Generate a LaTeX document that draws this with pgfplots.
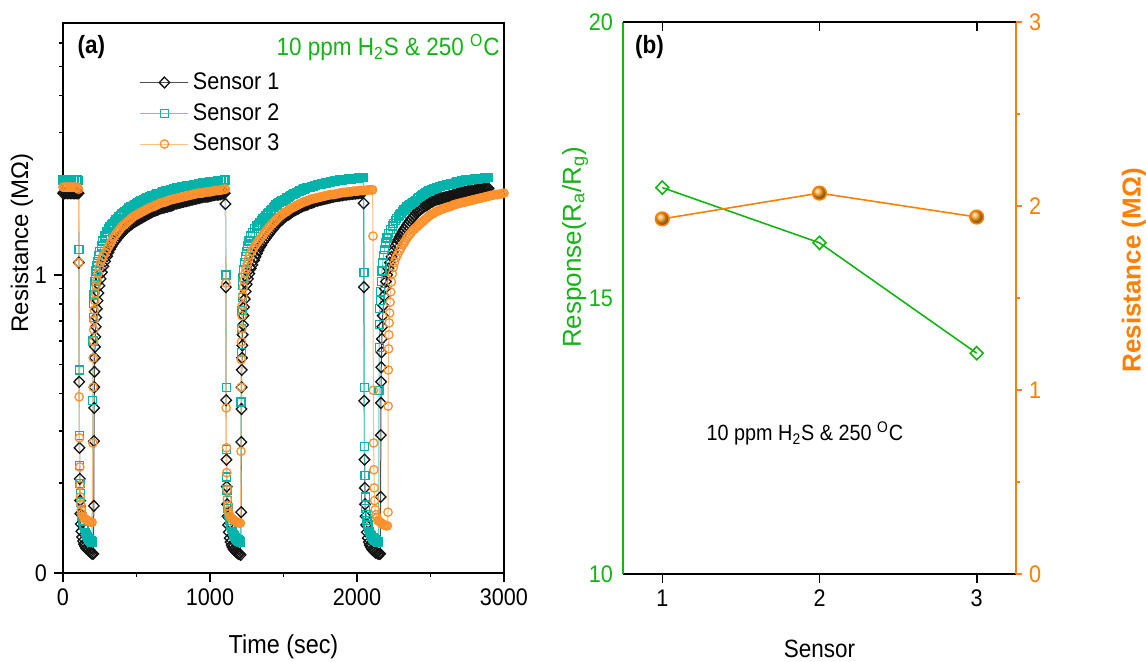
\documentclass[border=0pt]{standalone}
\usepackage{fontspec}
\setmainfont{Liberation Sans}[FakeStretch=0.9]
\newfontfamily\plainsans{Liberation Sans}
\usepackage{pgfplots}
\pgfplotsset{compat=1.18}

\definecolor{sgreen}{RGB}{20,180,20}
\definecolor{sorange}{RGB}{255,128,0}
\definecolor{ballorg}{RGB}{255,160,30}
\definecolor{cyanmk}{RGB}{0,180,172}
\definecolor{cyanln}{RGB}{90,205,205}
\definecolor{orgmk}{RGB}{255,145,45}
\definecolor{orgln}{RGB}{255,190,130}
\definecolor{blkmk}{RGB}{20,20,20}
\definecolor{blkln}{RGB}{80,80,80}

\pgfplotsset{
  sone/.style={color=blkln, line width=0.5pt, mark=diamond, mark size=2.7pt,
    mark options={solid, draw=blkmk, fill=none, line width=0.65pt, xscale=1.3}},
  stwo/.style={color=cyanln, line width=0.5pt, mark=square, mark size=2.0pt,
    mark options={solid, draw=cyanmk, fill=none, line width=0.65pt}},
  sthree/.style={color=orgln, line width=0.5pt, mark=o, mark size=2.1pt,
    mark options={solid, draw=orgmk, fill=none, line width=0.65pt}},
}

\begin{document}
\begin{tikzpicture}
\useasboundingbox (0,0) rectangle (573pt,-331pt);

% (a) resistance transients
\begin{axis}[
  at={(31.5pt,-286.5pt)}, anchor=south west,
  scale only axis, width=220.5pt, height=275pt,
  xmin=0, xmax=3000, ymode=log, ymin=0.1, ymax=7,
  xtick={0,1000,2000,3000}, minor xtick={500,1500,2500},
  ytick={0.1,1}, yticklabels={0,1},
  minor ytick={0.2,0.3,0.4,0.5,0.6,0.7,0.8,0.9,2,3,4,5,6},
  tick align=outside, xtick pos=left, ytick pos=left,
  major tick length=4.5pt, minor tick length=2pt,
  axis line style={line width=0.8pt}, tick style={line width=0.8pt, black},
  tick label style={font=\fontsize{12}{14}\selectfont},
  /pgf/number format/assume math mode=true, /pgf/number format/1000 sep={},
  xlabel={Time (sec)},
  xlabel style={at={(axis description cs:0.5,-0.135)}, anchor=center, font=\fontsize{13}{15}\selectfont},
  ylabel={Resistance (MΩ)},
  ylabel style={at={(axis description cs:-0.093,0.6)}, anchor=center, font=\plainsans\fontsize{12}{14}\selectfont},
  legend cell align=left,
  legend style={at={(rel axis cs:0.16,0.925)}, anchor=north west, draw=none, fill=none,
    font=\fontsize{12}{14}\selectfont, row sep=1.5pt, nodes={inner sep=2pt}},
  legend image code/.code={\draw[mark repeat=2,mark phase=2] plot coordinates {(0pt,0pt)(12pt,0pt)(24pt,0pt)};},
]
\addplot[sone] coordinates {
(0,1.88)(10,1.88)(20,1.88)(30,1.88)(40,1.88)(50,1.88)(60,1.88)(70,1.88)(80,1.88)(90,1.88)(100,1.88)(106,1.88)
(108,1.1)(110,0.438)(112,0.263)(114,0.207)(116,0.175)(118,0.158)(121,0.146)(125,0.138)(130,0.132)(136,0.128)(143,0.125)(150,0.123)(158,0.121)(166,0.12)(174,0.119)(182,0.118)(190,0.117)(198,0.116)(206,0.116)
(210,0.168)(211,0.277)(212,0.358)(213,0.42)(214,0.473)(216,0.527)(218,0.574)(220,0.62)(223,0.67)(226,0.72)(230,0.77)(235,0.82)(241,0.87)(248,0.92)(256,0.97)(265,1.02)(275,1.07)(286,1.11)
(300,1.155)(310,1.19)(320,1.22)(330,1.245)(340,1.27)(350,1.29)(360,1.31)(370,1.33)(380,1.35)(390,1.365)(400,1.38)(410,1.40)(420,1.42)(430,1.435)(440,1.45)(450,1.46)(460,1.47)(470,1.485)(480,1.5)(490,1.51)(500,1.52)(510,1.53)(520,1.54)(530,1.55)(540,1.56)(550,1.57)(560,1.58)(570,1.59)(580,1.6)(590,1.61)(600,1.62)(610,1.63)(620,1.64)(630,1.645)(640,1.65)(650,1.66)(660,1.67)(670,1.675)(680,1.68)(690,1.685)(700,1.69)(710,1.695)(720,1.7)(730,1.705)(740,1.71)(750,1.72)(760,1.73)(770,1.735)(780,1.74)(790,1.745)(800,1.75)(810,1.755)(820,1.76)(830,1.765)(840,1.77)(850,1.775)(860,1.78)(870,1.785)(880,1.79)(890,1.795)(900,1.8)(910,1.805)(920,1.81)(930,1.815)(940,1.82)(950,1.825)(960,1.83)(970,1.83)(980,1.83)(990,1.835)(1000,1.84)(1010,1.845)(1020,1.85)(1030,1.855)(1040,1.86)(1050,1.86)(1060,1.86)(1070,1.865)(1080,1.87)(1090,1.875)(1100,1.88)
(1105,1.73)(1108,0.91)(1110,0.38)(1112,0.24)(1114,0.195)(1116,0.17)(1119,0.155)(1123,0.145)(1128,0.137)(1134,0.131)(1140,0.127)(1147,0.124)(1154,0.122)(1161,0.12)(1168,0.119)(1176,0.118)(1184,0.117)(1192,0.116)(1200,0.116)(1208,0.115)
(1212,0.16)(1213,0.275)(1214,0.355)(1215,0.42)(1216,0.48)(1218,0.527)(1220,0.58)(1222,0.63)(1225,0.68)(1228,0.73)(1232,0.78)(1237,0.83)(1243,0.88)(1250,0.93)(1258,0.97)(1267,1.01)(1277,1.05)(1288,1.08)
(1300,1.12)(1310,1.15)(1320,1.18)(1330,1.21)(1340,1.24)(1350,1.26)(1360,1.29)(1370,1.31)(1380,1.33)(1390,1.35)(1400,1.37)(1410,1.39)(1420,1.41)(1430,1.43)(1440,1.45)(1450,1.47)(1460,1.49)(1470,1.505)(1480,1.52)(1490,1.535)(1500,1.55)(1510,1.565)(1520,1.58)(1530,1.59)(1540,1.6)(1550,1.615)(1560,1.63)(1570,1.64)(1580,1.65)(1590,1.66)(1600,1.67)(1610,1.68)(1620,1.69)(1630,1.70)(1640,1.71)(1650,1.715)(1660,1.72)(1670,1.73)(1680,1.74)(1690,1.745)(1700,1.75)(1710,1.76)(1720,1.77)(1730,1.775)(1740,1.78)(1750,1.785)(1760,1.79)(1770,1.795)(1780,1.8)(1790,1.805)(1800,1.81)(1810,1.815)(1820,1.82)(1830,1.825)(1840,1.83)(1850,1.835)(1860,1.84)(1870,1.84)(1880,1.845)(1890,1.85)(1900,1.85)(1910,1.855)(1920,1.86)(1930,1.86)(1940,1.865)(1950,1.865)(1960,1.87)(1970,1.87)(1980,1.875)(1990,1.875)(2000,1.88)(2010,1.88)(2020,1.885)(2030,1.885)(2040,1.89)
(2045,1.74)(2047,0.91)(2049,0.378)(2051,0.24)(2053,0.193)(2055,0.17)(2058,0.155)(2062,0.145)(2067,0.137)(2073,0.131)(2080,0.127)(2087,0.124)(2095,0.122)(2103,0.12)(2111,0.119)(2119,0.118)(2127,0.117)(2135,0.117)(2143,0.116)(2151,0.116)(2158,0.116)
(2161,0.18)(2162,0.29)(2163,0.372)(2164,0.438)(2165,0.49)(2167,0.55)(2169,0.61)(2172,0.67)(2175,0.73)(2179,0.79)(2184,0.85)(2190,0.9)(2197,0.95)(2205,1.0)(2214,1.05)(2224,1.1)(2235,1.15)(2247,1.2)
(2260,1.25)(2270,1.28)(2280,1.31)(2290,1.34)(2300,1.37)(2310,1.395)(2320,1.42)(2330,1.445)(2340,1.47)(2350,1.495)(2360,1.52)(2370,1.54)(2380,1.56)(2390,1.585)(2400,1.61)(2410,1.625)(2420,1.64)(2430,1.655)(2440,1.67)(2450,1.685)(2460,1.7)(2470,1.71)(2480,1.72)(2490,1.735)(2500,1.75)(2510,1.76)(2520,1.77)(2530,1.78)(2540,1.79)(2550,1.795)(2560,1.8)(2570,1.805)(2580,1.81)(2590,1.815)(2600,1.82)(2610,1.825)(2620,1.83)(2630,1.835)(2640,1.84)(2650,1.85)(2660,1.86)(2670,1.865)(2680,1.87)(2690,1.875)(2700,1.88)(2710,1.885)(2720,1.89)(2730,1.895)(2740,1.9)(2750,1.905)(2760,1.91)(2770,1.91)(2780,1.91)(2790,1.915)(2800,1.92)(2810,1.925)(2820,1.93)(2830,1.93)(2840,1.93)(2850,1.935)(2860,1.94)(2870,1.945)(2880,1.95)(2890,1.95)(2895,1.95)
};
\addlegendentry{Sensor 1}
\addplot[stwo] coordinates {
(0,2.08)(10,2.08)(20,2.08)(30,2.08)(40,2.08)(50,2.08)(60,2.08)(70,2.08)(80,2.08)(90,2.08)(100,2.08)(106,2.07)
(108,1.22)(110,0.48)(112,0.29)(114,0.23)(116,0.2)(118,0.185)(121,0.172)(125,0.163)(130,0.155)(135,0.149)(140,0.145)(147,0.141)(154,0.137)(161,0.134)(168,0.132)(175,0.13)(182,0.129)(190,0.128)(198,0.127)
(203,0.38)(205,0.6)(207,0.72)(209,0.8)(211,0.86)(214,0.91)(217,0.95)(221,0.99)(225,1.03)(230,1.07)(236,1.11)(243,1.16)(250,1.2)(260,1.25)(270,1.3)(285,1.35)
(300,1.4)(310,1.425)(320,1.45)(330,1.47)(340,1.49)(350,1.51)(360,1.53)(370,1.55)(380,1.57)(390,1.585)(400,1.6)(410,1.615)(420,1.63)(430,1.645)(440,1.66)(450,1.675)(460,1.69)(470,1.70)(480,1.71)(490,1.725)(500,1.74)(510,1.75)(520,1.76)(530,1.77)(540,1.78)(550,1.79)(560,1.8)(570,1.81)(580,1.82)(590,1.83)(600,1.84)(610,1.845)(620,1.85)(630,1.86)(640,1.87)(650,1.875)(660,1.88)(670,1.89)(680,1.9)(690,1.905)(700,1.91)(710,1.915)(720,1.92)(730,1.925)(740,1.93)(750,1.94)(760,1.95)(770,1.955)(780,1.96)(790,1.965)(800,1.97)(810,1.975)(820,1.98)(830,1.985)(840,1.99)(850,1.995)(860,2.0)(870,2.0)(880,2.0)(890,2.005)(900,2.01)(910,2.015)(920,2.02)(930,2.025)(940,2.03)(950,2.035)(960,2.04)(970,2.04)(980,2.04)(990,2.045)(1000,2.05)(1010,2.055)(1020,2.06)(1030,2.06)(1040,2.06)(1050,2.065)(1060,2.07)(1070,2.07)(1080,2.07)(1090,2.075)(1100,2.08)
(1105,2.08)(1108,1.0)(1110,0.42)(1112,0.26)(1114,0.21)(1116,0.19)(1119,0.175)(1123,0.165)(1128,0.157)(1134,0.15)(1140,0.145)(1147,0.141)(1154,0.138)(1161,0.135)(1168,0.133)(1175,0.131)(1182,0.13)(1190,0.129)(1198,0.128)(1207,0.127)
(1211,0.375)(1213,0.55)(1215,0.66)(1217,0.76)(1219,0.84)(1222,0.92)(1225,0.98)(1229,1.04)(1234,1.1)(1240,1.15)(1247,1.2)(1255,1.25)(1265,1.3)(1277,1.35)(1290,1.39)(1305,1.43)
(1320,1.46)(1330,1.48)(1340,1.5)(1350,1.52)(1360,1.54)(1370,1.56)(1380,1.58)(1390,1.6)(1400,1.62)(1410,1.64)(1420,1.66)(1430,1.68)(1440,1.70)(1450,1.715)(1460,1.73)(1470,1.745)(1480,1.76)(1490,1.77)(1500,1.78)(1510,1.795)(1520,1.81)(1530,1.82)(1540,1.83)(1550,1.845)(1560,1.86)(1570,1.87)(1580,1.88)(1590,1.89)(1600,1.9)(1610,1.91)(1620,1.92)(1630,1.93)(1640,1.94)(1650,1.95)(1660,1.96)(1670,1.965)(1680,1.97)(1690,1.975)(1700,1.98)(1710,1.99)(1720,2.0)(1730,2.005)(1740,2.01)(1750,2.015)(1760,2.02)(1770,2.025)(1780,2.03)(1790,2.035)(1800,2.04)(1810,2.045)(1820,2.05)(1830,2.055)(1840,2.06)(1850,2.065)(1860,2.07)(1870,2.075)(1880,2.08)(1890,2.08)(1900,2.08)(1910,2.085)(1920,2.09)(1930,2.095)(1940,2.1)(1950,2.1)(1960,2.1)(1970,2.105)(1980,2.11)(1990,2.11)(2000,2.11)(2010,2.115)(2020,2.12)(2030,2.12)(2040,2.12)(2045,2.12)
(2048,1.02)(2050,0.42)(2052,0.265)(2054,0.212)(2056,0.18)(2059,0.165)(2063,0.157)(2068,0.15)(2074,0.145)(2080,0.141)(2087,0.138)(2094,0.135)(2101,0.133)(2108,0.131)(2115,0.13)(2123,0.129)(2131,0.128)(2140,0.127)(2147,0.127)
(2150,0.41)(2151,0.57)(2153,0.68)(2155,0.77)(2158,0.82)(2161,0.88)(2165,0.95)(2170,1.03)(2175,1.1)(2181,1.16)(2188,1.22)(2196,1.28)(2205,1.33)(2215,1.38)(2227,1.42)(2240,1.46)
(2250,1.49)(2260,1.52)(2270,1.545)(2280,1.57)(2290,1.59)(2300,1.61)(2310,1.63)(2320,1.65)(2330,1.67)(2340,1.69)(2350,1.705)(2360,1.72)(2370,1.735)(2380,1.75)(2390,1.765)(2400,1.78)(2410,1.80)(2420,1.82)(2430,1.835)(2440,1.85)(2450,1.865)(2460,1.88)(2470,1.89)(2480,1.9)(2490,1.91)(2500,1.92)(2510,1.93)(2520,1.94)(2530,1.95)(2540,1.96)(2550,1.97)(2560,1.98)(2570,1.985)(2580,1.99)(2590,1.995)(2600,2.0)(2610,2.005)(2620,2.01)(2630,2.015)(2640,2.02)(2650,2.025)(2660,2.03)(2670,2.04)(2680,2.05)(2690,2.055)(2700,2.06)(2710,2.065)(2720,2.07)(2730,2.075)(2740,2.08)(2750,2.08)(2760,2.08)(2770,2.085)(2780,2.09)(2790,2.095)(2800,2.1)(2810,2.1)(2820,2.1)(2830,2.105)(2840,2.11)(2850,2.11)(2860,2.11)(2870,2.115)(2880,2.12)(2890,2.12)(2895,2.12)
};
\addlegendentry{Sensor 2}
\addplot[sthree] coordinates {
(0,1.97)(10,1.97)(20,1.97)(30,1.97)(40,1.97)(50,1.97)(60,1.97)(70,1.97)(80,1.97)(90,1.97)(100,1.96)(106,1.94)
(108,1.1)(110,0.39)(112,0.284)(114,0.227)(116,0.197)(118,0.18)(121,0.17)(125,0.163)(130,0.158)(136,0.155)(143,0.153)(150,0.152)(158,0.151)(166,0.15)(174,0.149)(182,0.149)(190,0.148)(198,0.148)
(203,0.273)(205,0.42)(206,0.527)(207,0.6)(209,0.654)(211,0.706)(213,0.763)(216,0.82)(220,0.87)(225,0.92)(231,0.96)(238,1.01)(246,1.06)(255,1.1)(265,1.13)(276,1.16)(288,1.19)
(300,1.22)(310,1.245)(320,1.27)(330,1.30)(340,1.33)(350,1.35)(360,1.37)(370,1.39)(380,1.41)(390,1.43)(400,1.45)(410,1.465)(420,1.48)(430,1.495)(440,1.51)(450,1.525)(460,1.54)(470,1.555)(480,1.57)(490,1.58)(500,1.59)(510,1.60)(520,1.61)(530,1.62)(540,1.63)(550,1.64)(560,1.65)(570,1.66)(580,1.67)(590,1.68)(600,1.69)(610,1.695)(620,1.7)(630,1.71)(640,1.72)(650,1.73)(660,1.74)(670,1.745)(680,1.75)(690,1.755)(700,1.76)(710,1.77)(720,1.78)(730,1.785)(740,1.79)(750,1.795)(760,1.8)(770,1.805)(780,1.81)(790,1.815)(800,1.82)(810,1.825)(820,1.83)(830,1.835)(840,1.84)(850,1.845)(860,1.85)(870,1.855)(880,1.86)(890,1.865)(900,1.87)(910,1.875)(920,1.88)(930,1.88)(940,1.88)(950,1.885)(960,1.89)(970,1.895)(980,1.9)(990,1.9)(1000,1.9)(1010,1.905)(1020,1.91)(1030,1.915)(1040,1.92)(1050,1.92)(1060,1.92)(1070,1.925)(1080,1.93)(1090,1.935)(1100,1.94)
(1105,1.94)(1108,0.94)(1110,0.358)(1112,0.263)(1114,0.217)(1116,0.19)(1118,0.177)(1121,0.168)(1125,0.162)(1130,0.158)(1136,0.155)(1143,0.153)(1150,0.152)(1158,0.151)(1166,0.15)(1174,0.149)(1182,0.148)(1190,0.148)(1198,0.147)(1207,0.147)
(1211,0.256)(1212,0.42)(1213,0.52)(1214,0.596)(1216,0.66)(1218,0.73)(1220,0.79)(1223,0.85)(1227,0.91)(1232,0.96)(1238,1.01)(1245,1.05)(1253,1.09)(1262,1.13)(1272,1.17)(1284,1.2)(1297,1.23)(1310,1.26)(1320,1.28)(1330,1.3)(1340,1.32)
(1350,1.34)(1360,1.36)(1370,1.38)(1380,1.4)(1390,1.42)(1400,1.44)(1410,1.46)(1420,1.48)(1430,1.495)(1440,1.51)(1450,1.53)(1460,1.55)(1470,1.565)(1480,1.58)(1490,1.595)(1500,1.61)(1510,1.62)(1520,1.63)(1530,1.645)(1540,1.66)(1550,1.67)(1560,1.68)(1570,1.69)(1580,1.7)(1590,1.71)(1600,1.72)(1610,1.73)(1620,1.74)(1630,1.75)(1640,1.76)(1650,1.765)(1660,1.77)(1670,1.78)(1680,1.79)(1690,1.795)(1700,1.8)(1710,1.805)(1720,1.81)(1730,1.815)(1740,1.82)(1750,1.825)(1760,1.83)(1770,1.835)(1780,1.84)(1790,1.845)(1800,1.85)(1810,1.855)(1820,1.86)(1830,1.86)(1840,1.86)(1850,1.865)(1860,1.87)(1870,1.875)(1880,1.88)(1890,1.885)(1900,1.89)(1910,1.89)(1920,1.89)(1930,1.895)(1940,1.9)(1950,1.9)(1960,1.9)(1970,1.905)(1980,1.91)(1990,1.91)(2000,1.91)(2010,1.915)(2020,1.92)(2030,1.92)(2040,1.92)(2050,1.92)(2060,1.92)(2070,1.925)(2080,1.93)(2090,1.93)(2100,1.93)(2106,1.93)
(2109,1.35)(2111,0.41)(2113,0.273)(2115,0.222)(2117,0.193)(2120,0.175)(2124,0.163)(2129,0.157)(2135,0.153)(2142,0.15)(2150,0.149)(2158,0.148)(2166,0.147)(2174,0.146)(2182,0.145)(2190,0.145)(2198,0.144)(2207,0.144)
(2211,0.16)(2212,0.363)(2213,0.48)(2215,0.565)(2217,0.63)(2219,0.69)(2222,0.745)(2225,0.81)(2229,0.877)(2234,0.947)(2240,1.01)(2247,1.06)(2255,1.1)(2265,1.14)(2276,1.17)
(2290,1.21)(2300,1.235)(2310,1.26)(2320,1.28)(2330,1.305)(2340,1.33)(2350,1.35)(2360,1.37)(2370,1.39)(2380,1.41)(2390,1.425)(2400,1.44)(2410,1.455)(2420,1.47)(2430,1.485)(2440,1.5)(2450,1.515)(2460,1.53)(2470,1.545)(2480,1.56)(2490,1.575)(2500,1.59)(2510,1.60)(2520,1.61)(2530,1.62)(2540,1.63)(2550,1.64)(2560,1.65)(2570,1.655)(2580,1.66)(2590,1.67)(2600,1.68)(2610,1.685)(2620,1.69)(2630,1.695)(2640,1.7)(2650,1.71)(2660,1.72)(2670,1.725)(2680,1.73)(2690,1.735)(2700,1.74)(2710,1.745)(2720,1.75)(2730,1.755)(2740,1.76)(2750,1.765)(2760,1.77)(2770,1.775)(2780,1.78)(2790,1.785)(2800,1.79)(2810,1.795)(2820,1.8)(2830,1.805)(2840,1.81)(2850,1.815)(2860,1.82)(2870,1.825)(2880,1.83)(2890,1.835)(2900,1.84)(2910,1.845)(2920,1.85)(2930,1.855)(2940,1.86)(2950,1.86)(2960,1.86)(2970,1.865)(2980,1.87)(2990,1.875)(3000,1.88)
};
\addlegendentry{Sensor 3}
\node[anchor=west, inner sep=0pt, font=\bfseries\fontsize{12.5}{14}\selectfont] at (rel axis cs:0.032,0.956) {(a)};
\node[anchor=east, inner sep=0pt, text=sgreen, font=\fontsize{12.5}{14}\selectfont] at (rel axis cs:0.991,0.956) {10 ppm H\textsubscript{2}S \& 250 \textsuperscript{O}C};
\end{axis}

% (b) response (left) and resistance (right)
\begin{axis}[
  at={(311.5pt,-287pt)}, anchor=south west,
  scale only axis, width=196.5pt, height=276pt,
  xmin=0.75, xmax=3.25, ymin=10, ymax=20,
  xtick={1,2,3}, ytick={10,15,20},
  axis y line*=left, xtick pos=left, tick align=outside,
  major tick length=4.5pt,
  axis line style={line width=0.8pt},
  y axis line style={sgreen, line width=0.8pt},
  ytick style={draw=none}, xtick style={line width=0.8pt, black},
  yticklabel style={text=sgreen, xshift=3pt},
  tick label style={font=\fontsize{12}{14}\selectfont},
  /pgf/number format/assume math mode=true,
  xlabel={Sensor},
  xlabel style={at={(axis description cs:0.5,-0.135)}, anchor=center, inner sep=1pt, font=\fontsize{12.5}{15}\selectfont},
  ylabel={Response(R\textsubscript{a}/R\textsubscript{g})},
  ylabel style={at={(axis description cs:-0.122,0.592)}, anchor=center, text=sgreen, font=\plainsans\fontsize{13}{15}\selectfont},
]
\addplot[sgreen, line width=0.8pt, mark=diamond, mark size=3.3pt,
  mark options={solid, fill=white, xscale=1.3}] coordinates {(1,17.0)(2,16.0)(3,14.0)};
\node[anchor=west, inner sep=0pt, font=\bfseries\fontsize{12.5}{14}\selectfont] at (rel axis cs:0.03,0.955) {(b)};
\node[inner sep=0pt, font=\fontsize{11}{13}\selectfont] at (rel axis cs:0.463,0.254) {10 ppm H\textsubscript{2}S \& 250 \textsuperscript{O}C};
\end{axis}

\begin{axis}[
  at={(311.5pt,-287pt)}, anchor=south west,
  scale only axis, width=196.5pt, height=276pt,
  xmin=0.75, xmax=3.25, ymin=0, ymax=3,
  axis x line=none, axis y line*=right,
  ytick={0,1,2,3}, minor ytick={0.5,1.5,2.5}, tick align=outside,
  major tick length=3pt, minor tick length=2pt,
  y axis line style={sorange, line width=0.8pt},
  tick style={sorange, line width=0.8pt},
  yticklabel style={text=sorange},
  tick label style={font=\fontsize{12}{14}\selectfont},
  /pgf/number format/assume math mode=true,
  ylabel={Resistance (MΩ)},
  ylabel style={at={(axis description cs:1.30,0.55)}, anchor=center, text=sorange, font=\plainsans\bfseries\fontsize{13}{15}\selectfont},
]
\addplot[sorange, line width=0.8pt, mark=ball, mark size=3.4pt,
  mark options={ball color=ballorg}] coordinates {(1,1.93)(2,2.07)(3,1.94)};
\end{axis}

\begin{axis}[
  at={(311.5pt,-287pt)}, anchor=south west,
  scale only axis, width=196.5pt, height=276pt,
  xmin=0.75, xmax=3.25, ymin=0, ymax=1,
  axis y line=none, axis x line*=top,
  xtick={1,2,3}, xticklabels={}, tick align=inside,
  major tick length=4.5pt,
  tick style={line width=0.8pt, black}, axis line style={line width=0.8pt},
]
\end{axis}
\end{tikzpicture}
\end{document}
